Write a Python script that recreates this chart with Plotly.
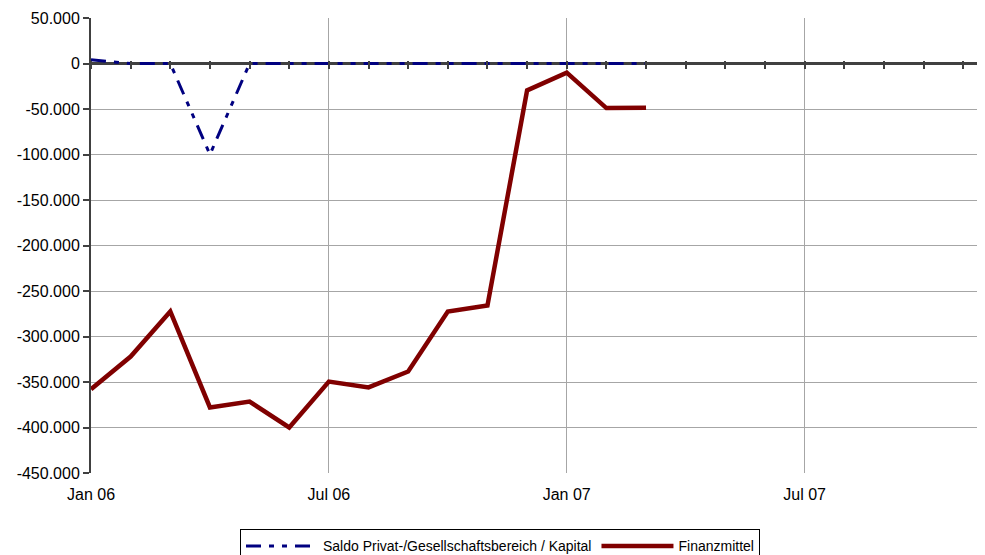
import plotly.graph_objects as go

# ---- data ----
months_all = ["Jan 06", "Feb 06", "Mar 06", "Apr 06", "May 06", "Jun 06",
              "Jul 06", "Aug 06", "Sep 06", "Oct 06", "Nov 06", "Dec 06",
              "Jan 07", "Feb 07", "Mar 07", "Apr 07", "May 07", "Jun 07",
              "Jul 07", "Aug 07", "Sep 07", "Oct 07", "Nov 07", "Dec 07"]
months_data = months_all[:15]
saldo = [4000, 0, 0, -100000, 0, 0, 0, 0, 0, 0, 0, 0, 0, 0, 0]
finanzmittel = [-358000, -322000, -272500, -378000, -371500, -400000,
                -349500, -356000, -338500, -272500, -266000, -29500,
                -10000, -49000, -48500]
x_tick_vals = ["Jan 06", "Jul 06", "Jan 07", "Jul 07"]
y_tick_vals = [50000, 0, -50000, -100000, -150000, -200000, -250000,
               -300000, -350000, -400000, -450000]
y_tick_text = ["50.000", "0", "-50.000", "-100.000", "-150.000", "-200.000",
               "-250.000", "-300.000", "-350.000", "-400.000", "-450.000"]
series_names = ["Saldo Privat-/Gesellschaftsbereich / Kapital", "Finanzmittel"]

AXIS = "#404040"
GRID = "#a6a6a6"
FONT = "Liberation Sans, Arial, sans-serif"
x_range = [0, 22.55]
PLOT_H = 455
PLOT_W = 894

fig = go.Figure()
fig.add_trace(go.Scatter(x=months_data, y=saldo, name=series_names[0], mode="lines",
                         xaxis="x2", yaxis="y",
                         line=dict(color="#000080", width=3,
                                   dash="15px,8px,5px,8px,5px,8px")))
fig.add_trace(go.Scatter(x=months_data, y=finanzmittel, name=series_names[1], mode="lines",
                         xaxis="x", yaxis="y",
                         line=dict(color="#800000", width=4.5)))

zero_pos = (0 - y_tick_vals[-1]) / (y_tick_vals[0] - y_tick_vals[-1])

fig.update_layout(
    width=977, height=547,
    margin=dict(l=83, r=0, t=10, b=82),
    paper_bgcolor="white", plot_bgcolor="white",
    font=dict(family=FONT, size=16, color="black"),
    showlegend=True,
    legend=dict(orientation="h", x=(240 - 91) / PLOT_W, xanchor="left",
                yref="container", y=0.047, yanchor="top",
                bordercolor="black", borderwidth=1, font=dict(size=14),
                itemwidth=72, tracegroupgap=0),
    xaxis=dict(type="category", categoryarray=months_all, categoryorder="array",
               range=x_range, tickmode="array", tickvals=x_tick_vals, ticktext=x_tick_vals,
               showgrid=True, gridcolor=GRID, gridwidth=1, zeroline=False, showline=False,
               ticks="outside", ticklen=7, tickcolor="rgba(0,0,0,0)"),
    xaxis2=dict(overlaying="x", anchor="free", position=zero_pos + 4 / PLOT_H,
                type="category", categoryarray=months_all, categoryorder="array",
                range=x_range, tickmode="linear", tick0=0, dtick=1,
                showticklabels=False, showgrid=False, zeroline=False, showline=False,
                ticks="outside", ticklen=8, tickwidth=2, tickcolor=AXIS),
    yaxis=dict(range=[y_tick_vals[-1], y_tick_vals[0]], tickmode="array",
               tickvals=y_tick_vals, ticktext=y_tick_text, showgrid=True,
               gridcolor=GRID, gridwidth=1, zeroline=True, zerolinecolor=AXIS,
               zerolinewidth=2.5, showline=True,
               linecolor=AXIS, linewidth=2, ticks="outside", ticklen=6, tickwidth=2,
               tickcolor=AXIS),
)
fig.write_html("out.html")
